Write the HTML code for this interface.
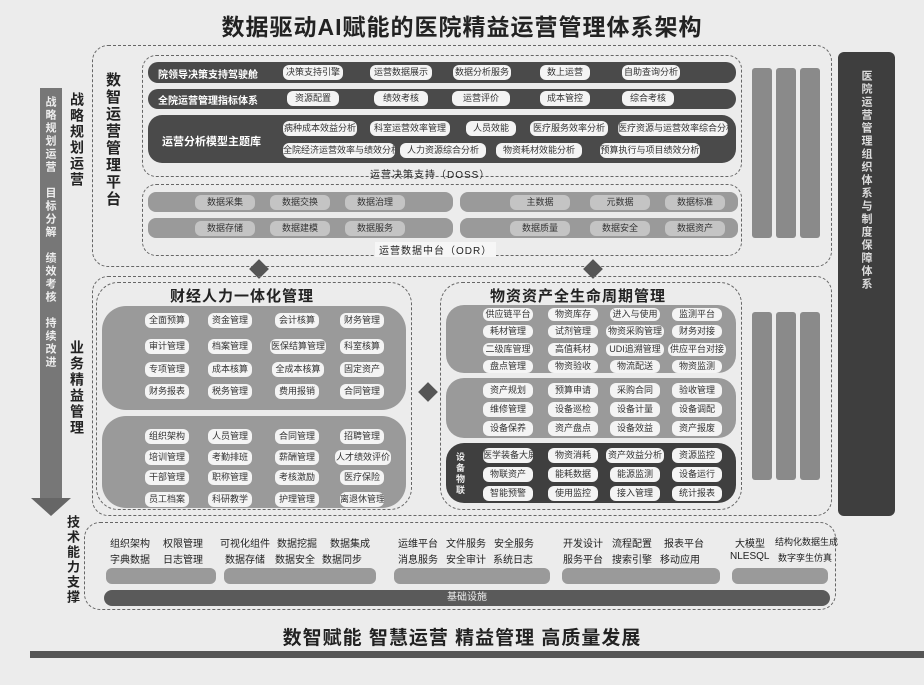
<!DOCTYPE html>
<html><head><meta charset="utf-8"><style>
*{box-sizing:border-box;margin:0;padding:0}
body{width:924px;height:685px;background:#ececec;position:relative;overflow:hidden;font-family:"Liberation Sans","Noto Sans CJK SC",sans-serif;color:#222}
.a{position:absolute}
.dash{border:1.5px dashed #666;border-radius:16px}
.dk{background:#4a4a4a;border-radius:10px}
.md{background:#9a9a9a;border-radius:14px}
.p{position:absolute;background:#f4f4f4;border-radius:6px;font-size:9px;text-align:center;line-height:15px;height:15px;color:#333;white-space:nowrap;overflow:hidden}
.vt{writing-mode:vertical-rl;font-weight:bold;letter-spacing:2px}
.strip{background:#8a8a8a;width:20px;border-radius:3px}
.dia{position:absolute;width:14px;height:14px;background:#555;transform:rotate(45deg)}
.lab{font-size:10px;color:#fff;position:absolute;font-weight:bold}
.t{position:absolute;font-size:10px;white-space:nowrap}
</style></head><body>
<div class="a" style="left:0;top:8px;width:924px;text-align:center;font-size:23px;font-weight:bold;letter-spacing:1px">数据驱动AI赋能的医院精益运营管理体系架构</div>

<!-- left arrow -->
<div class="a" style="left:40px;top:88px;width:22px;height:412px;background:#777"></div>
<div class="a" style="left:31px;top:498px;width:0;height:0;border-left:20px solid transparent;border-right:20px solid transparent;border-top:18px solid #666"></div>
<div class="a vt" style="left:42px;top:96px;font-size:11px;color:#eee">战略规划运营　目标分解　绩效考核　持续改进</div>
<div class="a vt" style="left:67px;top:92px;font-size:14px">战略规划运营</div>
<div class="a vt" style="left:67px;top:340px;font-size:14px">业务精益管理</div>

<!-- top platform -->
<div class="a dash" style="left:92px;top:45px;width:740px;height:222px"></div>
<div class="a vt" style="left:102px;top:72px;font-size:15px">数智运营管理平台</div>
<div class="a dash" style="left:142px;top:55px;width:600px;height:122px;border-radius:14px"></div>
<div class="a dk" style="left:148px;top:62px;width:588px;height:21px"></div>
<div class="lab" style="left:158px;top:66px">院领导决策支持驾驶舱</div>
<div class="p" style="left:283px;top:65px;width:60px">决策支持引擎</div>
<div class="p" style="left:370px;top:65px;width:62px">运营数据展示</div>
<div class="p" style="left:453px;top:65px;width:58px">数据分析服务</div>
<div class="p" style="left:540px;top:65px;width:50px">数上运营</div>
<div class="p" style="left:622px;top:65px;width:58px">自助查询分析</div>
<div class="a dk" style="left:148px;top:89px;width:588px;height:20px"></div>
<div class="lab" style="left:158px;top:92px">全院运营管理指标体系</div>
<div class="p" style="left:287px;top:91px;width:52px">资源配置</div>
<div class="p" style="left:374px;top:91px;width:54px">绩效考核</div>
<div class="p" style="left:452px;top:91px;width:58px">运营评价</div>
<div class="p" style="left:540px;top:91px;width:50px">成本管控</div>
<div class="p" style="left:622px;top:91px;width:52px">综合考核</div>
<div class="a dk" style="left:148px;top:115px;width:588px;height:48px;border-radius:14px"></div>
<div class="lab" style="left:162px;top:133px;font-size:11px">运营分析模型主题库</div>
<div class="p" style="left:283px;top:121px;width:74px">病种成本效益分析</div>
<div class="p" style="left:370px;top:121px;width:80px">科室运营效率管理</div>
<div class="p" style="left:466px;top:121px;width:50px">人员效能</div>
<div class="p" style="left:530px;top:121px;width:78px">医疗服务效率分析</div>
<div class="p" style="left:618px;top:121px;width:110px">医疗资源与运营效率综合分析</div>
<div class="p" style="left:283px;top:143px;width:112px">全院经济运营效率与绩效分析</div>
<div class="p" style="left:400px;top:143px;width:86px">人力资源综合分析</div>
<div class="p" style="left:496px;top:143px;width:86px">物资耗材效能分析</div>
<div class="p" style="left:600px;top:143px;width:100px">预算执行与项目绩效分析</div>
<div class="a" style="left:370px;top:166px;font-size:10px;letter-spacing:1px">运营决策支持（DOSS）</div>

<div class="a dash" style="left:142px;top:184px;width:600px;height:72px;border-radius:14px"></div>
<div class="a md" style="left:148px;top:192px;width:305px;height:20px;border-radius:8px"></div>
<div class="a md" style="left:148px;top:218px;width:305px;height:20px;border-radius:8px"></div>
<div class="a md" style="left:460px;top:192px;width:278px;height:20px;border-radius:8px"></div>
<div class="a md" style="left:460px;top:218px;width:278px;height:20px;border-radius:8px"></div>
<div class="p" style="left:195px;top:195px;width:60px;background:#c4c4c4">数据采集</div>
<div class="p" style="left:270px;top:195px;width:60px;background:#c4c4c4">数据交换</div>
<div class="p" style="left:345px;top:195px;width:60px;background:#c4c4c4">数据治理</div>
<div class="p" style="left:195px;top:221px;width:60px;background:#c4c4c4">数据存储</div>
<div class="p" style="left:270px;top:221px;width:60px;background:#c4c4c4">数据建模</div>
<div class="p" style="left:345px;top:221px;width:60px;background:#c4c4c4">数据服务</div>
<div class="p" style="left:510px;top:195px;width:60px;background:#c4c4c4">主数据</div>
<div class="p" style="left:590px;top:195px;width:60px;background:#c4c4c4">元数据</div>
<div class="p" style="left:665px;top:195px;width:60px;background:#c4c4c4">数据标准</div>
<div class="p" style="left:510px;top:221px;width:60px;background:#c4c4c4">数据质量</div>
<div class="p" style="left:590px;top:221px;width:60px;background:#c4c4c4">数据安全</div>
<div class="p" style="left:665px;top:221px;width:60px;background:#c4c4c4">数据资产</div>
<div class="a" style="left:375px;top:242px;font-size:10px;letter-spacing:1px;background:#f6f6f6;padding:0 4px">运营数据中台（ODR）</div>

<div class="a strip" style="left:752px;top:68px;height:170px"></div>
<div class="a strip" style="left:776px;top:68px;height:170px"></div>
<div class="a strip" style="left:800px;top:68px;height:170px"></div>
<div class="a" style="left:838px;top:52px;width:57px;height:464px;background:#3e3e3e;border-radius:6px"></div>
<div class="a vt" style="left:858px;top:70px;font-size:11px;color:#ddd">医院运营管理组织体系与制度保障体系</div>

<div class="dia" style="left:252px;top:262px"></div>
<div class="dia" style="left:586px;top:262px"></div>
<div class="dia" style="left:421px;top:385px"></div>

<!-- middle -->
<div class="a dash" style="left:92px;top:276px;width:740px;height:240px"></div>
<div class="a dash" style="left:96px;top:282px;width:316px;height:228px;border-radius:22px"></div>
<div class="a" style="left:170px;top:285px;font-size:15px;font-weight:bold;letter-spacing:1px">财经人力一体化管理</div>
<div class="a md" style="left:102px;top:306px;width:304px;height:104px;border-radius:24px"></div>
<div class="a md" style="left:102px;top:416px;width:304px;height:92px;border-radius:24px"></div>
<div class="p" style="left:145px;top:313px;width:44px">全面预算</div>
<div class="p" style="left:208px;top:313px;width:44px">资金管理</div>
<div class="p" style="left:275px;top:313px;width:44px">会计核算</div>
<div class="p" style="left:340px;top:313px;width:44px">财务管理</div>
<div class="p" style="left:145px;top:339px;width:44px">审计管理</div>
<div class="p" style="left:208px;top:339px;width:44px">档案管理</div>
<div class="p" style="left:270px;top:339px;width:56px">医保结算管理</div>
<div class="p" style="left:340px;top:339px;width:44px">科室核算</div>
<div class="p" style="left:145px;top:362px;width:44px">专项管理</div>
<div class="p" style="left:208px;top:362px;width:44px">成本核算</div>
<div class="p" style="left:272px;top:362px;width:52px">全成本核算</div>
<div class="p" style="left:340px;top:362px;width:44px">固定资产</div>
<div class="p" style="left:145px;top:384px;width:44px">财务报表</div>
<div class="p" style="left:208px;top:384px;width:44px">税务管理</div>
<div class="p" style="left:275px;top:384px;width:44px">费用报销</div>
<div class="p" style="left:340px;top:384px;width:44px">合同管理</div>
<div class="p" style="left:145px;top:429px;width:44px">组织架构</div>
<div class="p" style="left:208px;top:429px;width:44px">人员管理</div>
<div class="p" style="left:275px;top:429px;width:44px">合同管理</div>
<div class="p" style="left:340px;top:429px;width:44px">招聘管理</div>
<div class="p" style="left:145px;top:450px;width:44px">培训管理</div>
<div class="p" style="left:208px;top:450px;width:44px">考勤排班</div>
<div class="p" style="left:275px;top:450px;width:44px">薪酬管理</div>
<div class="p" style="left:335px;top:450px;width:56px">人才绩效评价</div>
<div class="p" style="left:145px;top:470px;width:44px">干部管理</div>
<div class="p" style="left:208px;top:470px;width:44px">职称管理</div>
<div class="p" style="left:275px;top:470px;width:44px">考核激励</div>
<div class="p" style="left:340px;top:470px;width:44px">医疗保险</div>
<div class="p" style="left:145px;top:492px;width:44px">员工档案</div>
<div class="p" style="left:208px;top:492px;width:44px">科研教学</div>
<div class="p" style="left:275px;top:492px;width:44px">护理管理</div>
<div class="p" style="left:340px;top:492px;width:44px">离退休管理</div>

<div class="a dash" style="left:440px;top:282px;width:302px;height:228px;border-radius:22px"></div>
<div class="a" style="left:490px;top:285px;font-size:15px;font-weight:bold;letter-spacing:1px">物资资产全生命周期管理</div>
<div class="a md" style="left:446px;top:305px;width:290px;height:68px;border-radius:18px"></div>
<div class="a md" style="left:446px;top:378px;width:290px;height:60px;border-radius:18px"></div>
<div class="a dk" style="left:446px;top:443px;width:290px;height:60px;border-radius:18px;background:#3f3f3f"></div>
<div class="p" style="left:483px;top:308px;width:50px;height:13px;line-height:13px">供应链平台</div>
<div class="p" style="left:548px;top:308px;width:50px;height:13px;line-height:13px">物资库存</div>
<div class="p" style="left:610px;top:308px;width:50px;height:13px;line-height:13px">进入与使用</div>
<div class="p" style="left:672px;top:308px;width:50px;height:13px;line-height:13px">监测平台</div>
<div class="p" style="left:483px;top:325px;width:50px;height:13px;line-height:13px">耗材管理</div>
<div class="p" style="left:548px;top:325px;width:50px;height:13px;line-height:13px">试剂管理</div>
<div class="p" style="left:606px;top:325px;width:58px;height:13px;line-height:13px">物资采购管理</div>
<div class="p" style="left:672px;top:325px;width:50px;height:13px;line-height:13px">财务对接</div>
<div class="p" style="left:483px;top:343px;width:50px;height:13px;line-height:13px">二级库管理</div>
<div class="p" style="left:548px;top:343px;width:50px;height:13px;line-height:13px">高值耗材</div>
<div class="p" style="left:606px;top:343px;width:58px;height:13px;line-height:13px">UDI追溯管理</div>
<div class="p" style="left:668px;top:343px;width:58px;height:13px;line-height:13px">供应平台对接</div>
<div class="p" style="left:483px;top:360px;width:50px;height:13px;line-height:13px">盘点管理</div>
<div class="p" style="left:548px;top:360px;width:50px;height:13px;line-height:13px">物资验收</div>
<div class="p" style="left:610px;top:360px;width:50px;height:13px;line-height:13px">物流配送</div>
<div class="p" style="left:672px;top:360px;width:50px;height:13px;line-height:13px">物资监测</div>
<div class="p" style="left:483px;top:383px;width:50px">资产规划</div>
<div class="p" style="left:548px;top:383px;width:50px">预算申请</div>
<div class="p" style="left:610px;top:383px;width:50px">采购合同</div>
<div class="p" style="left:672px;top:383px;width:50px">验收管理</div>
<div class="p" style="left:483px;top:402px;width:50px">维修管理</div>
<div class="p" style="left:548px;top:402px;width:50px">设备巡检</div>
<div class="p" style="left:610px;top:402px;width:50px">设备计量</div>
<div class="p" style="left:672px;top:402px;width:50px">设备调配</div>
<div class="p" style="left:483px;top:421px;width:50px">设备保养</div>
<div class="p" style="left:548px;top:421px;width:50px">资产盘点</div>
<div class="p" style="left:610px;top:421px;width:50px">设备效益</div>
<div class="p" style="left:672px;top:421px;width:50px">资产报废</div>
<div class="a vt" style="left:454px;top:452px;font-size:9px;color:#eee">设备物联</div>
<div class="p" style="left:483px;top:448px;width:50px">医学装备大屏</div>
<div class="p" style="left:548px;top:448px;width:50px">物资消耗</div>
<div class="p" style="left:606px;top:448px;width:58px">资产效益分析</div>
<div class="p" style="left:672px;top:448px;width:50px">资源监控</div>
<div class="p" style="left:483px;top:467px;width:50px">物联资产</div>
<div class="p" style="left:548px;top:467px;width:50px">能耗数据</div>
<div class="p" style="left:610px;top:467px;width:50px">能源监测</div>
<div class="p" style="left:672px;top:467px;width:50px">设备运行</div>
<div class="p" style="left:483px;top:486px;width:50px">智能预警</div>
<div class="p" style="left:548px;top:486px;width:50px">使用监控</div>
<div class="p" style="left:610px;top:486px;width:50px">接入管理</div>
<div class="p" style="left:672px;top:486px;width:50px">统计报表</div>
<div class="a strip" style="left:752px;top:312px;height:168px"></div>
<div class="a strip" style="left:776px;top:312px;height:168px"></div>
<div class="a strip" style="left:800px;top:312px;height:168px"></div>

<!-- tech -->
<div class="a vt" style="left:63px;top:515px;font-size:13px">技术能力支撑</div>
<div class="a dash" style="left:84px;top:522px;width:752px;height:88px"></div>
<div class="t" style="left:110px;top:535px">组织架构</div>
<div class="t" style="left:163px;top:535px">权限管理</div>
<div class="t" style="left:220px;top:535px">可视化组件</div>
<div class="t" style="left:277px;top:535px">数据挖掘</div>
<div class="t" style="left:330px;top:535px">数据集成</div>
<div class="t" style="left:398px;top:535px">运维平台</div>
<div class="t" style="left:446px;top:535px">文件服务</div>
<div class="t" style="left:494px;top:535px">安全服务</div>
<div class="t" style="left:563px;top:535px">开发设计</div>
<div class="t" style="left:612px;top:535px">流程配置</div>
<div class="t" style="left:664px;top:535px">报表平台</div>
<div class="t" style="left:735px;top:535px">大模型</div>
<div class="t" style="left:775px;top:535px;font-size:9px">结构化数据生成</div>
<div class="t" style="left:110px;top:551px">字典数据</div>
<div class="t" style="left:163px;top:551px">日志管理</div>
<div class="t" style="left:225px;top:551px">数据存储</div>
<div class="t" style="left:275px;top:551px">数据安全</div>
<div class="t" style="left:322px;top:551px">数据同步</div>
<div class="t" style="left:398px;top:551px">消息服务</div>
<div class="t" style="left:446px;top:551px">安全审计</div>
<div class="t" style="left:493px;top:551px">系统日志</div>
<div class="t" style="left:563px;top:551px">服务平台</div>
<div class="t" style="left:612px;top:551px">搜索引擎</div>
<div class="t" style="left:660px;top:551px">移动应用</div>
<div class="t" style="left:730px;top:551px">NLESQL</div>
<div class="t" style="left:778px;top:551px;font-size:9px">数字孪生仿真</div>
<div class="a md" style="left:106px;top:568px;width:110px;height:16px;border-radius:6px"></div>
<div class="a md" style="left:224px;top:568px;width:152px;height:16px;border-radius:6px"></div>
<div class="a md" style="left:394px;top:568px;width:156px;height:16px;border-radius:6px"></div>
<div class="a md" style="left:562px;top:568px;width:158px;height:16px;border-radius:6px"></div>
<div class="a md" style="left:732px;top:568px;width:96px;height:16px;border-radius:6px"></div>
<div class="a" style="left:104px;top:590px;width:726px;height:16px;background:#5a5a5a;border-radius:8px;color:#eee;font-size:10px;text-align:center;line-height:16px">基础设施</div>

<div class="a" style="left:0;top:623px;width:924px;text-align:center;font-size:19px;font-weight:bold;letter-spacing:1px">数智赋能 智慧运营 精益管理 高质量发展</div>
<div class="a" style="left:30px;top:651px;width:894px;height:7px;background:#555"></div>
</body></html>
